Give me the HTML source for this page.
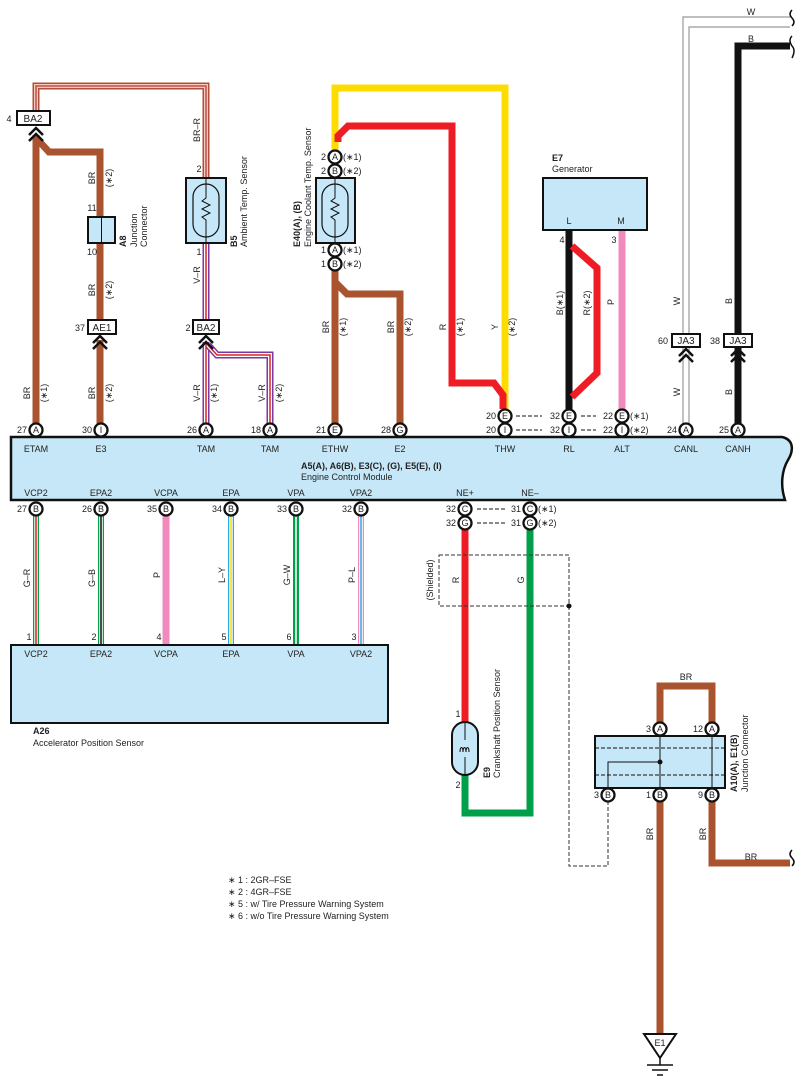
<!DOCTYPE html>
<html><head><meta charset="utf-8"><style>
html,body{margin:0;padding:0;background:#fff}
svg{display:block}
text{font-family:"Liberation Sans",sans-serif;font-size:9px;fill:#222}
.b{font-weight:bold}
.c{text-anchor:middle}
</style></head><body>
<svg width="802" height="1088" viewBox="0 0 802 1088" xmlns="http://www.w3.org/2000/svg">
<defs>
<g id="chev"><polyline points="-7,7 0,0 7,7" fill="none" stroke="#111" stroke-width="2.5"/><polyline points="-7,13 0,6 7,13" fill="none" stroke="#111" stroke-width="2.5"/></g>
</defs>

<g fill="none" stroke-linejoin="miter">
<polyline points="36,112 36,86 206,86 206,178" stroke="#b0503a" stroke-width="7"/>
<polyline points="36,112 36,86 206,86 206,178" stroke="#f5c8c0" stroke-width="4"/>
<polyline points="36,112 36,86 206,86 206,178" stroke="#c0504a" stroke-width="1.5"/>
<polyline points="206,243 206,320" stroke="#7a3aa0" stroke-width="7"/>
<polyline points="206,243 206,320" stroke="#fff" stroke-width="4"/>
<polyline points="206,243 206,320" stroke="#e02020" stroke-width="1.5"/>
<polyline points="206,342 206,424" stroke="#7a3aa0" stroke-width="7"/>
<polyline points="206,342 206,424" stroke="#fff" stroke-width="4"/>
<polyline points="206,342 206,424" stroke="#e02020" stroke-width="1.5"/>
<polyline points="208,345 217,355 270,355 270,424" stroke="#7a3aa0" stroke-width="7"/>
<polyline points="208,345 217,355 270,355 270,424" stroke="#fff" stroke-width="4"/>
<polyline points="208,345 217,355 270,355 270,424" stroke="#e02020" stroke-width="1.5"/>
<polyline points="36,424 36,135" stroke="#a9532f" stroke-width="7"/>
<polyline points="38,140 49,152 100,152 100,217" stroke="#a9532f" stroke-width="7"/>
<polyline points="100,243 100,320" stroke="#a9532f" stroke-width="7"/>
<polyline points="100,340 100,424" stroke="#a9532f" stroke-width="7"/>
<polyline points="335,270 335,424" stroke="#a9532f" stroke-width="7"/>
<polyline points="335,282 347,294 400,294 400,424" stroke="#a9532f" stroke-width="7"/>
<polyline points="335,150 335,88 505,88 505,409" stroke="#ffdc00" stroke-width="7"/>
<polyline points="338,142 338,136 348,126 452,126 452,383 494,383 503,395 503,409" stroke="#ee1c24" stroke-width="7"/>
<polyline points="569,230 569,409" stroke="#111" stroke-width="7"/>
<polyline points="572,246 597,268 597,373 572,397" stroke="#ee1c24" stroke-width="7"/>
<polyline points="622,230 622,409" stroke="#f28bbd" stroke-width="7"/>
<polyline points="683,424 683,17 790,17" stroke="#999" stroke-width="1.2"/>
<polyline points="689,424 689,27 790,27" stroke="#999" stroke-width="1.2"/>
<polyline points="738,424 738,46 790,46" stroke="#111" stroke-width="7"/>
</g>
<g fill="none" stroke="#111" stroke-width="1.5">
<path d="M792,10 q-4,4 0,8 q4,4 0,8"/><path d="M792,36 q-4,4 0,10 q4,4 0,12"/>
<path d="M792,850 q-4,4 0,8 q4,4 0,8"/>
</g>

<g fill="#fff" stroke="#111" stroke-width="2">
<rect x="17" y="111" width="33" height="14"/>
<rect x="88" y="320" width="28" height="14"/>
<rect x="193" y="320" width="26" height="14"/>
<rect x="672" y="334" width="28" height="13"/>
<rect x="724" y="334" width="28" height="13"/>
</g>
<text x="33" y="122" class="c" style="font-size:10px">BA2</text><text x="9" y="122" class="c">4</text>
<text x="102" y="331" class="c" style="font-size:10px">AE1</text><text x="80" y="331" class="c">37</text>
<text x="206" y="331" class="c" style="font-size:10px">BA2</text><text x="188" y="331" class="c">2</text>
<text x="686" y="344" class="c" style="font-size:10px">JA3</text><text x="663" y="344" class="c">60</text>
<text x="738" y="344" class="c" style="font-size:10px">JA3</text><text x="715" y="344" class="c">38</text>
<use href="#chev" x="36" y="128"/><use href="#chev" x="100" y="336"/><use href="#chev" x="206" y="336"/>
<use href="#chev" x="686" y="349"/><use href="#chev" x="738" y="349"/>

<rect x="88" y="217" width="27" height="26" fill="#c6e7f7" stroke="#111" stroke-width="2"/>
<line x1="101.5" y1="217" x2="101.5" y2="243" stroke="#111" stroke-width="1"/>
<text x="92" y="211" class="c">11</text><text x="92" y="255" class="c">10</text>

<rect x="186" y="178" width="40" height="65" fill="#c6e7f7" stroke="#111" stroke-width="2"/>
<rect x="193" y="184" width="26" height="53" rx="13" fill="none" stroke="#111" stroke-width="1.2"/>
<polyline points="206,178 206,198 202,201 210,205 202,209 210,213 202,217 206,220 206,243" fill="none" stroke="#111" stroke-width="1"/>
<text x="199" y="172" class="c">2</text><text x="199" y="255" class="c">1</text>

<rect x="316" y="178" width="39" height="65" fill="#c6e7f7" stroke="#111" stroke-width="2"/>
<rect x="322" y="184" width="26" height="53" rx="13" fill="none" stroke="#111" stroke-width="1.2"/>
<polyline points="335,178 335,198 331,201 339,205 331,209 339,213 331,217 335,220 335,243" fill="none" stroke="#111" stroke-width="1"/>

<rect x="543" y="178" width="104" height="52" fill="#c6e7f7" stroke="#111" stroke-width="2"/>
<text x="569" y="224" class="c">L</text><text x="621" y="224" class="c">M</text>
<text x="562" y="243" class="c">4</text><text x="614" y="243" class="c">3</text>
<text x="552" y="161" class="b">E7</text><text x="552" y="172">Generator</text>

<path d="M11,437 H782 C795,440 793,452 788,460 C782,470 780,485 785,500 H11 Z" fill="#c6e7f7" stroke="#111" stroke-width="2.5"/>
<g class="c">
<text x="36" y="452">ETAM</text><text x="101" y="452">E3</text><text x="206" y="452">TAM</text><text x="270" y="452">TAM</text>
<text x="335" y="452">ETHW</text><text x="400" y="452">E2</text><text x="505" y="452">THW</text><text x="569" y="452">RL</text>
<text x="622" y="452">ALT</text><text x="686" y="452">CANL</text><text x="738" y="452">CANH</text>
<text x="36" y="496">VCP2</text><text x="101" y="496">EPA2</text><text x="166" y="496">VCPA</text><text x="231" y="496">EPA</text>
<text x="296" y="496">VPA</text><text x="361" y="496">VPA2</text><text x="465" y="496">NE+</text><text x="530" y="496">NE–</text>
</g>
<text x="301" y="469" class="b">A5(A), A6(B), E3(C), (G), E5(E), (I)</text>
<text x="301" y="480">Engine Control Module</text>

<g fill="none">
<line x1="36" y1="515" x2="36" y2="645" stroke="#00a04a" stroke-width="6"/><line x1="36" y1="515" x2="36" y2="645" stroke="#fff" stroke-width="3.5"/><line x1="36" y1="515" x2="36" y2="645" stroke="#e02020" stroke-width="1.5"/>
<line x1="101" y1="515" x2="101" y2="645" stroke="#00a04a" stroke-width="6"/><line x1="101" y1="515" x2="101" y2="645" stroke="#fff" stroke-width="3.5"/><line x1="101" y1="515" x2="101" y2="645" stroke="#111" stroke-width="1.5"/>
<line x1="166" y1="515" x2="166" y2="645" stroke="#f28bbd" stroke-width="7"/>
<line x1="231" y1="515" x2="231" y2="645" stroke="#29abe2" stroke-width="6"/><line x1="231" y1="515" x2="231" y2="645" stroke="#fff" stroke-width="3.5"/><line x1="231" y1="515" x2="231" y2="645" stroke="#ffdc00" stroke-width="1.5"/>
<line x1="296" y1="515" x2="296" y2="645" stroke="#00a04a" stroke-width="6"/><line x1="296" y1="515" x2="296" y2="645" stroke="#fff" stroke-width="1.5"/>
<line x1="361" y1="515" x2="361" y2="645" stroke="#f28bbd" stroke-width="6"/><line x1="361" y1="515" x2="361" y2="645" stroke="#fff" stroke-width="3.5"/><line x1="361" y1="515" x2="361" y2="645" stroke="#29abe2" stroke-width="1.5"/>
</g>
<rect x="11" y="645" width="377" height="78" fill="#c6e7f7" stroke="#111" stroke-width="2"/>
<g class="c">
<text x="36" y="657">VCP2</text><text x="101" y="657">EPA2</text><text x="166" y="657">VCPA</text><text x="231" y="657">EPA</text><text x="296" y="657">VPA</text><text x="361" y="657">VPA2</text>
<text x="29" y="640">1</text><text x="94" y="640">2</text><text x="159" y="640">4</text><text x="224" y="640">5</text><text x="289" y="640">6</text><text x="354" y="640">3</text>
</g>
<text x="33" y="734" class="b">A26</text><text x="33" y="746">Accelerator Position Sensor</text>

<polyline points="465,529 465,722" fill="none" stroke="#ee1c24" stroke-width="7"/>
<polyline points="465,775 465,813 530,813 530,529" fill="none" stroke="#00a04a" stroke-width="7"/>
<rect x="452" y="722" width="26" height="53" rx="13" fill="#c6e7f7" stroke="#111" stroke-width="2"/>
<path d="M465,722 V740 M465,757 V775" stroke="#111" stroke-width="1"/>
<path d="M460,752 c0,-6 3,-6 3,0 c0,-6 3,-6 3,0 c0,-6 3,-6 3,0" fill="none" stroke="#111" stroke-width="1"/>
<text x="458" y="717" class="c">1</text><text x="458" y="788" class="c">2</text>
<g fill="none" stroke="#333" stroke-width="1" stroke-dasharray="4,2">
<rect x="439" y="555" width="130" height="51"/>
<polyline points="569,606 569,866 608,866 608,802"/>
</g>
<circle cx="569" cy="606" r="2.5" fill="#111"/>

<g fill="none" stroke="#a9532f" stroke-width="7">
<polyline points="660,724 660,686 712,686 712,724"/>
<line x1="660" y1="800" x2="660" y2="1035"/>
<polyline points="712,800 712,863 790,863"/>
</g>
<rect x="595" y="736" width="130" height="52" fill="#c6e7f7" stroke="#111" stroke-width="2"/>
<g stroke="#111" stroke-width="1" fill="none">
<line x1="595" y1="748" x2="725" y2="748" stroke-dasharray="4,2"/>
<line x1="595" y1="775" x2="725" y2="775" stroke-dasharray="4,2"/>
<line x1="660" y1="730" x2="660" y2="795"/><line x1="712" y1="730" x2="712" y2="795"/>
<polyline points="608,795 608,762 660,762"/>
</g>
<circle cx="660" cy="762" r="2.5" fill="#111"/>
<path d="M644,1034 H676 L660,1058 Z" fill="#fff" stroke="#111" stroke-width="2"/>
<text x="660" y="1046" class="c">E1</text>
<g stroke="#111" stroke-width="1.5"><line x1="660" y1="1058" x2="660" y2="1065"/><line x1="647" y1="1065" x2="673" y2="1065"/><line x1="652" y1="1070" x2="668" y2="1070"/><line x1="657" y1="1075" x2="663" y2="1075"/></g>

<g stroke="#111" stroke-width="1" stroke-dasharray="4,2">
<line x1="516" y1="416" x2="542" y2="416"/><line x1="516" y1="430" x2="542" y2="430"/>
<line x1="581" y1="416" x2="596" y2="416"/><line x1="581" y1="430" x2="596" y2="430"/>
<line x1="477" y1="509" x2="505" y2="509"/><line x1="477" y1="523" x2="505" y2="523"/>
</g>

<g fill="#fff" stroke="#111" stroke-width="2.3">
<circle cx="36" cy="430" r="6.5"/><circle cx="101" cy="430" r="6.5"/><circle cx="206" cy="430" r="6.5"/><circle cx="270" cy="430" r="6.5"/>
<circle cx="335" cy="430" r="6.5"/><circle cx="400" cy="430" r="6.5"/>
<circle cx="505" cy="416" r="6.5"/><circle cx="505" cy="430" r="6.5"/>
<circle cx="569" cy="416" r="6.5"/><circle cx="569" cy="430" r="6.5"/>
<circle cx="622" cy="416" r="6.5"/><circle cx="622" cy="430" r="6.5"/>
<circle cx="686" cy="430" r="6.5"/><circle cx="738" cy="430" r="6.5"/>
<circle cx="335" cy="157" r="6.5"/><circle cx="335" cy="171" r="6.5"/><circle cx="335" cy="250" r="6.5"/><circle cx="335" cy="264" r="6.5"/>
<circle cx="36" cy="509" r="6.5"/><circle cx="101" cy="509" r="6.5"/><circle cx="166" cy="509" r="6.5"/><circle cx="231" cy="509" r="6.5"/><circle cx="296" cy="509" r="6.5"/><circle cx="361" cy="509" r="6.5"/>
<circle cx="465" cy="509" r="6.5"/><circle cx="465" cy="523" r="6.5"/><circle cx="530" cy="509" r="6.5"/><circle cx="530" cy="523" r="6.5"/>
<circle cx="660" cy="729" r="6.5"/><circle cx="712" cy="729" r="6.5"/>
<circle cx="608" cy="795" r="6.5"/><circle cx="660" cy="795" r="6.5"/><circle cx="712" cy="795" r="6.5"/>
</g>
<g class="c" style="font-size:8.5px">
<text x="36" y="433">A</text><text x="101" y="433">I</text><text x="206" y="433">A</text><text x="270" y="433">A</text>
<text x="335" y="433">E</text><text x="400" y="433">G</text><text x="505" y="419">E</text><text x="505" y="433">I</text>
<text x="569" y="419">E</text><text x="569" y="433">I</text><text x="622" y="419">E</text><text x="622" y="433">I</text>
<text x="686" y="433">A</text><text x="738" y="433">A</text>
<text x="335" y="160">A</text><text x="335" y="174">B</text><text x="335" y="253">A</text><text x="335" y="267">B</text>
<text x="36" y="512">B</text><text x="101" y="512">B</text><text x="166" y="512">B</text><text x="231" y="512">B</text><text x="296" y="512">B</text><text x="361" y="512">B</text>
<text x="465" y="512">C</text><text x="465" y="526">G</text><text x="530" y="512">C</text><text x="530" y="526">G</text>
<text x="660" y="732">A</text><text x="712" y="732">A</text><text x="608" y="798">B</text><text x="660" y="798">B</text><text x="712" y="798">B</text>
</g>
<g style="text-anchor:end">
<text x="27" y="433">27</text><text x="92" y="433">30</text><text x="197" y="433">26</text><text x="261" y="433">18</text>
<text x="326" y="433">21</text><text x="391" y="433">28</text>
<text x="496" y="419">20</text><text x="496" y="433">20</text><text x="560" y="419">32</text><text x="560" y="433">32</text>
<text x="613" y="419">22</text><text x="613" y="433">22</text><text x="677" y="433">24</text><text x="729" y="433">25</text>
<text x="326" y="160">2</text><text x="326" y="174">2</text><text x="326" y="253">1</text><text x="326" y="267">1</text>
<text x="27" y="512">27</text><text x="92" y="512">26</text><text x="157" y="512">35</text><text x="222" y="512">34</text><text x="287" y="512">33</text><text x="352" y="512">32</text>
<text x="456" y="512">32</text><text x="456" y="526">32</text><text x="521" y="512">31</text><text x="521" y="526">31</text>
<text x="651" y="732">3</text><text x="703" y="732">12</text><text x="599" y="798">3</text><text x="651" y="798">1</text><text x="703" y="798">9</text>
</g>
<text x="343" y="160">(∗1)</text><text x="343" y="174">(∗2)</text><text x="343" y="253">(∗1)</text><text x="343" y="267">(∗2)</text>
<text x="630" y="419">(∗1)</text><text x="630" y="433">(∗2)</text><text x="538" y="512">(∗1)</text><text x="538" y="526">(∗2)</text>

<g class="c">
<text transform="translate(30,393) rotate(-90)">BR</text><text transform="translate(47,393) rotate(-90)">(∗1)</text>
<text transform="translate(95,178) rotate(-90)">BR</text><text transform="translate(112,178) rotate(-90)">(∗2)</text>
<text transform="translate(95,290) rotate(-90)">BR</text><text transform="translate(112,290) rotate(-90)">(∗2)</text>
<text transform="translate(95,393) rotate(-90)">BR</text><text transform="translate(112,393) rotate(-90)">(∗2)</text>
<text transform="translate(200,130) rotate(-90)">BR–R</text>
<text transform="translate(200,275) rotate(-90)">V–R</text>
<text transform="translate(200,393) rotate(-90)">V–R</text><text transform="translate(217,393) rotate(-90)">(∗1)</text>
<text transform="translate(265,393) rotate(-90)">V–R</text><text transform="translate(282,393) rotate(-90)">(∗2)</text>
<text transform="translate(329,327) rotate(-90)">BR</text><text transform="translate(346,327) rotate(-90)">(∗1)</text>
<text transform="translate(394,327) rotate(-90)">BR</text><text transform="translate(411,327) rotate(-90)">(∗2)</text>
<text transform="translate(446,327) rotate(-90)">R</text><text transform="translate(463,327) rotate(-90)">(∗1)</text>
<text transform="translate(498,327) rotate(-90)">Y</text><text transform="translate(515,327) rotate(-90)">(∗2)</text>
<text transform="translate(563,303) rotate(-90)">B(∗1)</text><text transform="translate(590,303) rotate(-90)">R(∗2)</text>
<text transform="translate(614,302) rotate(-90)">P</text>
<text transform="translate(680,301) rotate(-90)">W</text><text transform="translate(732,301) rotate(-90)">B</text>
<text transform="translate(680,392) rotate(-90)">W</text><text transform="translate(732,392) rotate(-90)">B</text>
<text transform="translate(30,578) rotate(-90)">G–R</text><text transform="translate(95,578) rotate(-90)">G–B</text>
<text transform="translate(160,575) rotate(-90)">P</text><text transform="translate(225,575) rotate(-90)">L–Y</text>
<text transform="translate(290,575) rotate(-90)">G–W</text><text transform="translate(355,575) rotate(-90)">P–L</text>
<text transform="translate(433,580) rotate(-90)">(Shielded)</text>
<text transform="translate(459,580) rotate(-90)">R</text><text transform="translate(524,580) rotate(-90)">G</text>
<text transform="translate(653,834) rotate(-90)">BR</text><text transform="translate(706,834) rotate(-90)">BR</text>
<text x="686" y="680">BR</text><text x="751" y="860">BR</text>
<text x="751" y="15">W</text><text x="751" y="42">B</text>
</g>
<g>
<text transform="translate(126,247) rotate(-90)" class="b">A8</text>
<text transform="translate(137,247) rotate(-90)">Junction</text>
<text transform="translate(147,247) rotate(-90)">Connector</text>
<text transform="translate(237,247) rotate(-90)" class="b">B5</text>
<text transform="translate(247,247) rotate(-90)">Ambient Temp.  Sensor</text>
<text transform="translate(300,247) rotate(-90)" class="b">E40(A), (B)</text>
<text transform="translate(311,247) rotate(-90)">Engine Coolant Temp.  Sensor</text>
<text transform="translate(490,778) rotate(-90)" class="b">E9</text>
<text transform="translate(500,778) rotate(-90)">Crankshaft Position Sensor</text>
<text transform="translate(737,792) rotate(-90)" class="b">A10(A), E1(B)</text>
<text transform="translate(748,792) rotate(-90)">Junction Connector</text>
</g>

<g style="font-size:8.5px">
<text x="228" y="883">∗ 1 : 2GR–FSE</text>
<text x="228" y="895">∗ 2 : 4GR–FSE</text>
<text x="228" y="907">∗ 5 : w/ Tire Pressure Warning System</text>
<text x="228" y="919">∗ 6 : w/o Tire Pressure Warning System</text>
</g>
</svg>
</body></html>
